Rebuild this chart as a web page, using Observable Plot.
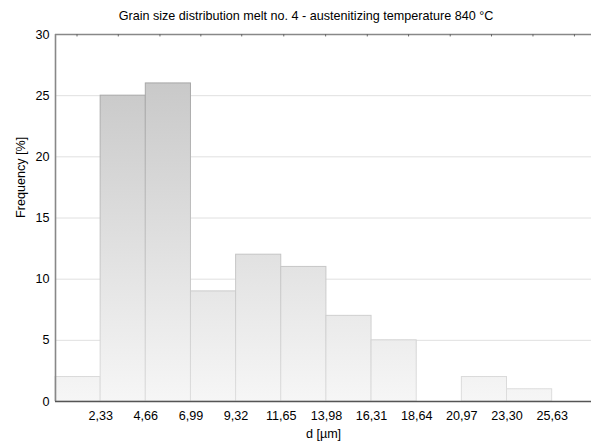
<!DOCTYPE html>
<html>
<head>
<meta charset="utf-8">
<script src="https://cdn.jsdelivr.net/npm/d3@7"></script>
<script src="https://cdn.jsdelivr.net/npm/@observablehq/plot@0.6"></script>
<style>
  html, body { margin: 0; padding: 0; background: #fff; }
  #chart { width: 591px; height: 445px; position: relative; font-family: "Liberation Sans", Arial, sans-serif; }
  #title { width: 591px; height: 28px; line-height: 32px; padding-left: 21px; box-sizing: border-box;
           text-align: center; font-size: 12.6px; color: #000; white-space: nowrap; }
  svg { display: block; }
</style>
</head>
<body>
<div id="chart">
  <div id="title">Grain size distribution melt no. 4 - austenitizing temperature 840 °C</div>
</div>
<script>
// Bin edges (µm) and tick labels
const binEdges = [0, 2.33, 4.66, 6.99, 9.32, 11.65, 13.98, 16.31, 18.64, 20.97, 23.30, 25.63];
// Frequency [%] for each bin
const frequencies = [2, 25, 26, 9, 12, 11, 7, 5, 0, 2, 1];
// Ticks
const xTickValues = binEdges.slice(1);
const yTickValues = [0, 5, 10, 15, 20, 25, 30];
const gridValues = [5, 10, 15, 20, 25];
const topTickValues = [1.11, 3.24, 5.39, 7.50, 9.61, 11.78, 13.94, 16.09, 18.22, 20.37, 22.50, 24.64, 26.78];

const bins = frequencies.map((f, i) => ({x1: binEdges[i], x2: binEdges[i + 1], freq: f}));

const fmt = d => d.toFixed(2).replace(".", ",");

function gradientDefs(index, scales, values, dims) {
  const y = scales.y;
  const defs = d3.create("svg:defs");
  const mk = (id, c1, c2) => {
    const g = defs.append("linearGradient")
      .attr("id", id).attr("gradientUnits", "userSpaceOnUse")
      .attr("x1", 0).attr("x2", 0).attr("y1", y(30)).attr("y2", y(0));
    g.append("stop").attr("offset", 0).attr("stop-color", c1);
    g.append("stop").attr("offset", 1).attr("stop-color", c2);
  };
  mk("barFill", "#c2c2c2", "#f6f6f6");
  mk("barStroke", "#9e9e9e", "#dedede");
  return defs.node();
}

const plot = Plot.plot({
  width: 591,
  height: 417,
  marginTop: 6,
  marginBottom: 44,
  marginLeft: 55,
  marginRight: 0,
  style: {fontFamily: '"Liberation Sans", Arial, sans-serif', fontSize: "12.6px", color: "#000", background: "#fff"},
  x: {domain: [0, 27.66]},
  y: {domain: [0, 30]},
  marks: [
    gradientDefs,
    Plot.ruleY(gridValues, {stroke: "#e0e0e0", strokeWidth: 1}),
    Plot.rectY(bins, {x1: "x1", x2: "x2", y: "freq", fill: "url(#barFill)", stroke: "url(#barStroke)", strokeWidth: 1, inset: 0}),
    Plot.ruleX([0], {stroke: "#888", strokeWidth: 1.6}),
    Plot.ruleY([30], {stroke: "#888", strokeWidth: 1.6}),
    Plot.ruleX(topTickValues, {y1: 30, y2: 29.8, stroke: "#666", strokeWidth: 1}),
    Plot.ruleY([0], {stroke: "#555", strokeWidth: 1.5}),
    Plot.axisX({ticks: xTickValues, tickFormat: fmt, tickSize: 0, tickPadding: 10, label: null}),
    Plot.axisY({ticks: yTickValues, tickSize: 0, tickPadding: 6, label: null}),
    Plot.text(["d [µm]"], {frameAnchor: "bottom", dy: 36, fontSize: 12.6, fill: "#000"}),
    Plot.text(["Frequency [%]"], {frameAnchor: "left", dx: -35, rotate: -90, fontSize: 12.6, fill: "#000"})
  ]
});
document.getElementById("chart").appendChild(plot);
</script>
</body>
</html>
